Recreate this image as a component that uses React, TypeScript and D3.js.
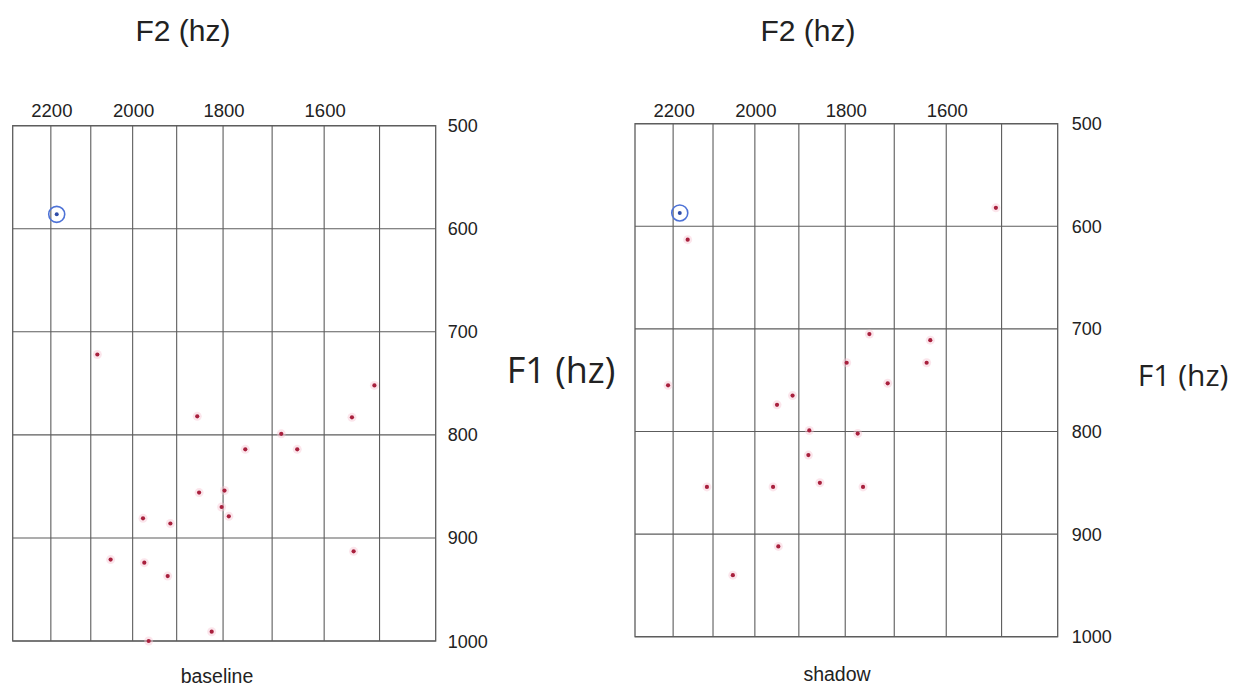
import React from "react";
import * as d3 from "d3";

// ---- data ----
const f2Ticks = [2200, 2000, 1800, 1600];
const f2Grid = [2200, 2100, 2000, 1900, 1800, 1700, 1600, 1500];
const f1Ticks = [500, 600, 700, 800, 900, 1000];

const baselineF2 = [2084, 1855, 1509, 1549, 1682, 1754, 1651, 1851, 1797, 1803, 1788, 1976, 1914, 1546, 2052, 1973, 1920, 1824, 1963];
const baselineF1 = [722, 782, 752, 783, 799, 814, 814, 856, 854, 870, 879, 881, 886, 913, 921, 924, 937, 991, 1000];

const shadowF2 = [1510, 2163, 2213, 1750, 1630, 1797, 1637, 1713, 1914, 1949, 1877, 1774, 1879, 2115, 1958, 1854, 1763, 1946, 2052];
const shadowF1 = [582, 613, 755, 705, 711, 733, 733, 753, 765, 774, 799, 802, 823, 854, 854, 850, 854, 912, 940];

const targetF2 = [2185, 2183];
const targetF1 = [586, 587];

const panelNames = ["baseline", "shadow"];

type PanelProps = {
  f2: number[];
  f1: number[];
  tF2: number;
  tF1: number;
  x0: number;
  x1: number;
  y0: number;
  y1: number;
  name: string;
  titleX: number;
  f1LabelX: number;
  f1LabelSize: number;
  nameX: number;
  nameY: number;
  rightLabelOffset: number;
};

function Panel(p: PanelProps) {
  const x = d3.scaleLog().domain([2300, 1405]).range([p.x0, p.x1]);
  const y = d3.scaleLinear().domain([500, 1000]).range([p.y0, p.y1]);
  const gridColor = "#5c5c5c";
  const pts = p.f2.map((v, i) => ({ f2: v, f1: p.f1[i] }));
  return (
    <g>
      <text x={p.titleX} y={41} fontFamily="Liberation Sans, Arial, sans-serif" fontSize={30} textAnchor="middle" fill="#222">
        F2 (hz)
      </text>
      {f2Grid.map((v) => (
        <line key={"vx" + v} x1={x(v)} x2={x(v)} y1={p.y0} y2={p.y1} stroke={gridColor} strokeWidth={1.1} />
      ))}
      {f1Ticks.map((v) => (
        <line key={"hy" + v} x1={p.x0} x2={p.x1} y1={y(v)} y2={y(v)} stroke={gridColor} strokeWidth={1.1} />
      ))}
      <rect x={p.x0} y={p.y0} width={p.x1 - p.x0} height={p.y1 - p.y0} fill="none" stroke={gridColor} strokeWidth={1.3} />
      {f2Ticks.map((v) => (
        <text key={"tx" + v} x={x(v) + 1} y={117} fontFamily="Liberation Sans, Arial, sans-serif" fontSize={18.5} textAnchor="middle" fill="#222">
          {v}
        </text>
      ))}
      {f1Ticks.map((v) => (
        <text key={"ty" + v} x={p.x1 + p.rightLabelOffset} y={y(v) + 6.5} fontFamily="Liberation Sans, Arial, sans-serif" fontSize={18} fill="#222">
          {v}
        </text>
      ))}
      {pts.map((d, i) => (
        <g key={"pt" + i}>
          <circle cx={x(d.f2)} cy={y(d.f1)} r={4.5} fill="#f7c6d2" opacity={0.45} />
          <circle cx={x(d.f2)} cy={y(d.f1)} r={2.1} fill="#a8203d" />
        </g>
      ))}
      <circle cx={x(p.tF2)} cy={y(p.tF1)} r={8} fill="none" stroke="#4d72d6" strokeWidth={1.6} />
      <circle cx={x(p.tF2)} cy={y(p.tF1)} r={2} fill="#2f4da8" />
      <text x={p.f1LabelX} y={p.f1LabelSize > 32 ? 383 : 386} fontFamily="Open Sans, Noto Sans, sans-serif" fontSize={p.f1LabelSize} textAnchor="middle" fill="#222">
        F1 (hz)
      </text>
      <text x={p.nameX} y={p.nameY} fontFamily="Liberation Sans, Arial, sans-serif" fontSize={19.5} textAnchor="middle" fill="#222">
        {p.name}
      </text>
    </g>
  );
}

export default function App() {
  return (
    <svg width={1243} height={688} style={{ position: "absolute", left: 0, top: 0, background: "#fff" }}>
      <rect x={0} y={0} width={1243} height={688} fill="#fff" />
      <Panel
        f2={baselineF2}
        f1={baselineF1}
        tF2={targetF2[0]}
        tF1={targetF1[0]}
        x0={12.7}
        x1={435.7}
        y0={125.7}
        y1={641}
        name={panelNames[0]}
        titleX={183}
        f1LabelX={561}
        f1LabelSize={36}
        nameX={217}
        nameY={683}
        rightLabelOffset={12}
      />
      <Panel
        f2={shadowF2}
        f1={shadowF1}
        tF2={targetF2[1]}
        tF1={targetF1[1]}
        x0={635}
        x1={1057.7}
        y0={123.7}
        y1={636.7}
        name={panelNames[1]}
        titleX={808}
        f1LabelX={1183}
        f1LabelSize={30}
        nameX={837}
        nameY={681}
        rightLabelOffset={14}
      />
    </svg>
  );
}
